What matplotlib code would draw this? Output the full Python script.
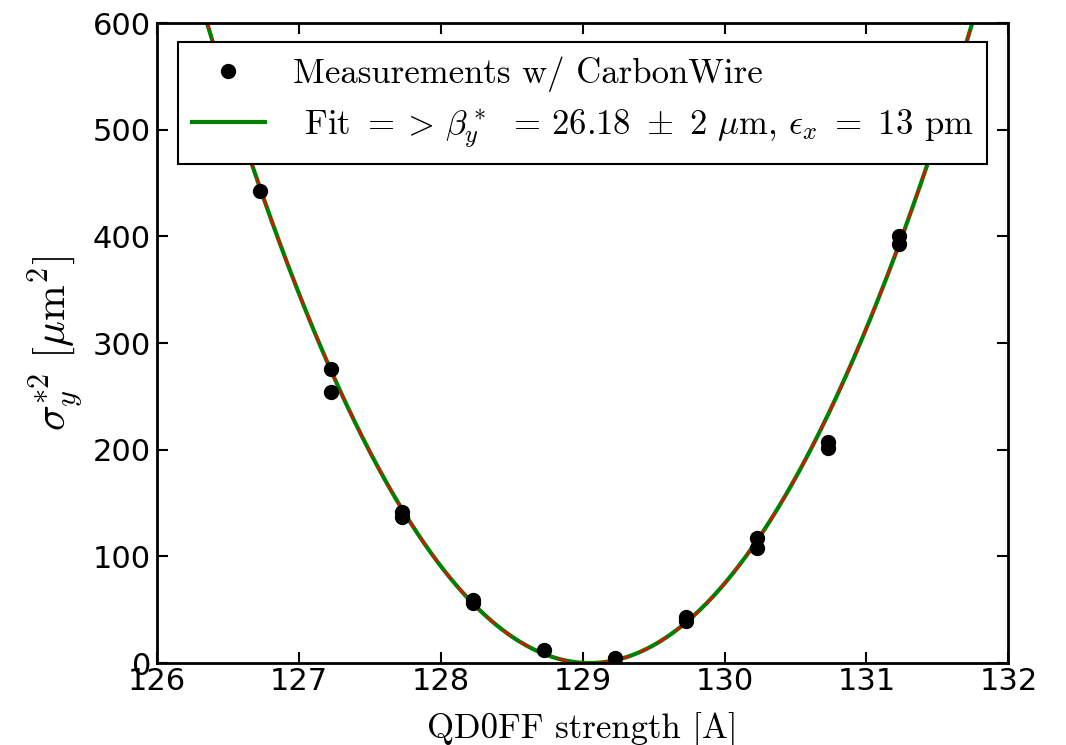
import numpy as np
import matplotlib
matplotlib.use("Agg")
import matplotlib.pyplot as plt

# Data
meas_x = [126.73, 127.23, 127.23, 127.73, 127.73, 128.23, 128.23, 128.73,
          129.23, 129.73, 129.73, 130.23, 130.23, 130.73, 130.73, 131.23, 131.23]
meas_y = [443, 276, 254, 142, 137, 59, 56, 12,
          5, 43, 39, 117, 108, 207, 202, 400, 393]

# Fit parameters (parabola)
fit_center = 129.05
fit_curvature = 82.6
fit_offset = 0.0

x_ticks = [126, 127, 128, 129, 130, 131, 132]
y_ticks = [0, 100, 200, 300, 400, 500, 600]

plt.rcParams['mathtext.fontset'] = 'cm'
plt.rcParams['xtick.direction'] = 'in'
plt.rcParams['ytick.direction'] = 'in'

fig = plt.figure(figsize=(10.66, 7.45), dpi=100)
ax = fig.add_axes([0.147, 0.110, 0.799, 0.859])

xf = np.linspace(125.5, 132.5, 600)
yf = fit_curvature * (xf - fit_center) ** 2 + fit_offset

ax.plot(meas_x, meas_y, 'o', color='black', markersize=10,
        label='Measurements w/ CarbonWire', zorder=3)
ax.plot(xf, yf, '-', color='green', lw=3,
        label=r' Fit $=>\, \beta_y^*\ \,=\, 26.18\ \pm\ 2\ \mu$m, $\epsilon_x\ =\ 13$ pm$\ \,$',
        zorder=2)
ax.plot(xf, yf, '--', color='red', lw=1.5, dashes=(5, 5), zorder=2.5)

ax.set_xlim(126, 132)
ax.set_ylim(0, 600)
ax.set_xticks(x_ticks)
ax.set_yticks(y_ticks)
ax.set_xticklabels([str(t) for t in x_ticks])
ax.set_yticklabels([str(t) for t in y_ticks])
ax.tick_params(axis='both', which='major', labelsize=22, length=8, width=1.5,
               top=True, right=True)
ax.tick_params(axis='x', pad=3)
ax.tick_params(axis='y', pad=4)
for s in ax.spines.values():
    s.set_linewidth(2)

ax.set_xlabel('QD0FF strength [A]', fontsize=25, family='cmr10')
ax.xaxis.set_label_coords(0.5, -0.076)
ax.set_ylabel(r'$\sigma_y^{*2}\ [\mu\mathrm{m}^2]$', fontsize=31)
ax.yaxis.set_label_coords(-0.082, 0.5)

leg = ax.legend(loc='upper center', numpoints=1,
                prop={'family': 'cmr10', 'size': 25},
                fancybox=False, framealpha=1, edgecolor='black',
                handlelength=2.1, borderpad=0.4, labelspacing=0.45,
                borderaxespad=0, bbox_to_anchor=(0.5, 0.970))
leg.get_frame().set_linewidth(1.5)

fig.savefig('out.png', dpi=100)
